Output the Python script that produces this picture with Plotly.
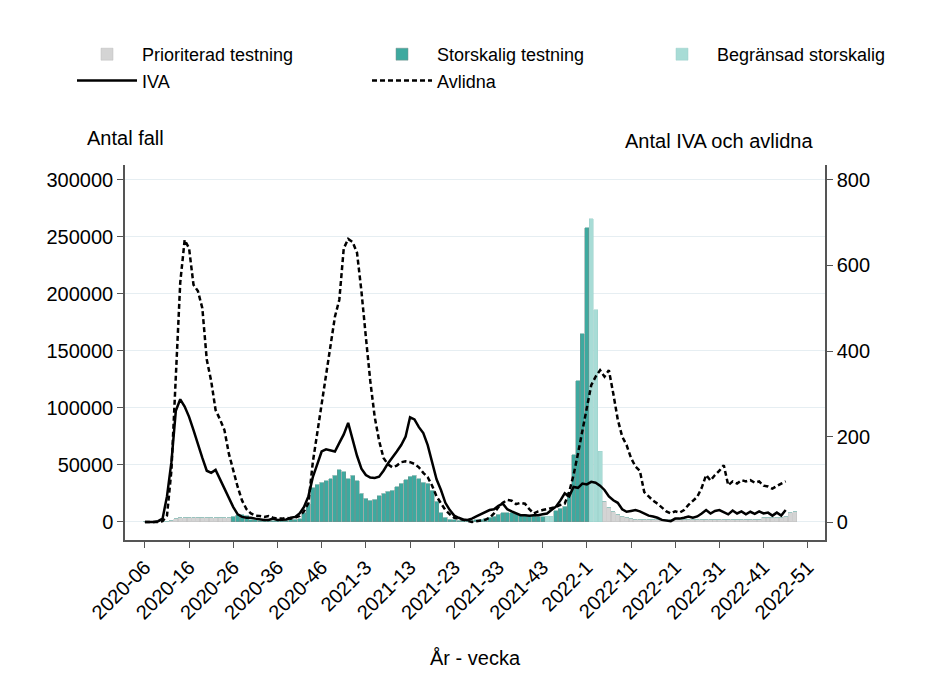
import plotly.graph_objects as go

# week labels 2020-06 .. 2022-48 (index 0..147)
weeks = [f"2020-{w:02d}" for w in range(6, 54)] + [f"2021-{w}" for w in range(1, 53)] + [f"2022-{w}" for w in range(1, 49)]
tick_labels = ["2020-06","2020-16","2020-26","2020-36","2020-46","2021-3","2021-13","2021-23","2021-33","2021-43","2022-1","2022-11","2022-21","2022-31","2022-41","2022-51"]

prio = [0,0,0,0,0,500,1500,3000,3500,3500,3800,4000,4000,4000,3800,3800,3800,3500,3500,3500] + [0]*84 + \
       [18000,13000,9000,7000,5000,4000,3000] + [2500]*29 + [4000,4000,4000,4000,4000,5000,8000,9000]
stor = [0]*20 + [5000,6500,6500,5500,2000,1800,1500,1200,1200,1200,1200,1500,1500,2000,2500,3000,
        8000,16000,30000,33000,35000,36000,38000,41000,46000,44000,38000,41000,36000,25000,21000,19000,20000,23000,25000,27000,
        28000,31000,34000,37000,40000,41000,38000,35000,34000,28000,18000,8000,4000,2500,2000,1500,1500,
        1500,1500,2000,2500,3000,4000,5000,7000,8000,8000,8000,7500,7000,6500,6000,5500,5000,4500,0,0,
        10000,12000,14000,26000,59000,124000,165000,258000] + [0]*47
begr = [0]*91 + [5000,5000] + [0]*8 + [266000,186000,62000] + [0]*44

iva = [0,0,0,2,8,60,140,260,287,270,246,215,180,150,120,115,122,100,78,55,35,18,12,10,10,8,6,5,5,8,5,5,6,10,12,20,
       35,60,105,135,165,170,168,165,185,205,232,195,155,125,110,104,103,106,120,137,150,165,180,200,245,240,222,208,
       180,140,100,75,45,28,15,10,6,5,8,13,18,22,28,30,38,43,30,25,20,16,16,15,16,16,18,20,28,36,50,67,60,82,80,90,88,
       94,92,85,75,60,51,45,30,24,26,28,25,20,15,13,10,5,3,2,8,8,10,13,10,13,20,28,20,26,28,22,18,27,20,25,18,24,19,25,
       20,22,15,22,15,28]
avl = [0,0,0,0,2,15,120,350,560,660,640,555,540,500,380,330,262,240,215,160,120,82,50,30,20,15,14,12,14,10,8,8,10,8,
       10,14,25,44,140,210,278,350,420,480,520,640,662,655,630,540,433,330,246,190,150,135,128,132,140,142,140,136,128,
       115,105,85,60,45,28,18,10,8,5,2,0,2,4,5,10,20,35,45,52,50,42,45,43,30,20,25,28,30,32,35,40,43,70,110,160,215,270,
       320,340,355,340,355,300,240,200,180,150,130,120,70,60,50,43,35,25,20,25,22,28,40,50,59,80,110,97,110,120,133,86,
       95,90,98,95,98,92,95,85,83,78,85,90,95]

x = list(range(len(weeks)))
fig = go.Figure()
fig.add_bar(x=x, y=prio, name="Prioriterad testning", legend="legend", legendrank=1, marker=dict(color="#d4d4d4", line=dict(color="#bdbdbd", width=0.5)))
fig.add_bar(x=x, y=stor, name="Storskalig testning", legend="legend2", legendrank=1, marker=dict(color="#3ea99f", line=dict(color="#7a8f8c", width=0.5)))
fig.add_bar(x=x, y=begr, name="Begränsad storskalig", legend="legend3", legendrank=1, marker=dict(color="#a8dcd6", line=dict(color="#9ccfc9", width=0.5)))
fig.add_scatter(x=x[:len(iva)], y=iva, name="IVA", legend="legend", legendrank=2, yaxis="y2", mode="lines", line=dict(color="black", width=2.5))
fig.add_scatter(x=x[:len(avl)], y=avl, name="Avlidna", legend="legend2", legendrank=2, yaxis="y2", mode="lines", line=dict(color="black", width=2.5, dash="5px,3px"))

FW, FH = 911, 661  # page has 8px body margin
L, R, T, B = 117, 94, 157, 129
W = FW - L - R; H = FH - T - B
def px(xp): return (xp - 8 - L) / W
def py(yp): return (FH - B - (yp - 8)) / H

leg = dict(orientation="v", yanchor="top", xanchor="left", font=dict(size=18), bgcolor="rgba(0,0,0,0)",
           tracegroupgap=0, itemwidth=60, traceorder="normal")
tick_font = dict(size=20)
axcol = "#555555"
fig.update_layout(
    width=FW, height=FH, barmode="stack", bargap=0.1,
    plot_bgcolor="white", paper_bgcolor="white",
    font=dict(family="Liberation Sans, Arial", size=18, color="black"),
    margin=dict(l=L, r=R, t=T, b=B, autoexpand=False),
    showlegend=True,
    legend=dict(leg, x=px(72), y=py(36)),
    legend2=dict(leg, x=px(367), y=py(36)),
    legend3=dict(leg, x=px(647), y=py(36)),
    xaxis=dict(range=[-4.5, 153.9], tickvals=[i*10 for i in range(len(tick_labels))], ticktext=tick_labels, tickangle=-45,
               ticks="outside", ticklen=6, tickcolor=axcol, showline=True, linecolor=axcol, linewidth=1.5, showgrid=False, zeroline=False,
               tickfont=tick_font, title=dict(text="År - vecka", font=dict(size=20), standoff=28)),
    yaxis=dict(range=[-15800, 313000], tickvals=[0,50000,100000,150000,200000,250000,300000], tickformat="d",
               ticks="outside", ticklen=6, tickcolor=axcol, showline=True, linecolor=axcol, linewidth=1.5, tickfont=tick_font,
               gridcolor="#e6eef2", zeroline=False),
    yaxis2=dict(range=[-42, 835], overlaying="y", side="right", tickvals=[0,200,400,600,800], ticks="outside", tickcolor=axcol,
                ticklen=6, showline=True, linecolor=axcol, linewidth=1.5, showgrid=False, zeroline=False, tickfont=tick_font),
    annotations=[
        dict(text="Antal fall", x=px(85), y=py(125), xref="paper", yref="paper", showarrow=False, font=dict(size=20)),
        dict(text="Antal IVA och avlidna", x=px(815), y=py(128), xref="paper", yref="paper", showarrow=False, font=dict(size=20)),
    ],
)
fig.write_html("out.html")
